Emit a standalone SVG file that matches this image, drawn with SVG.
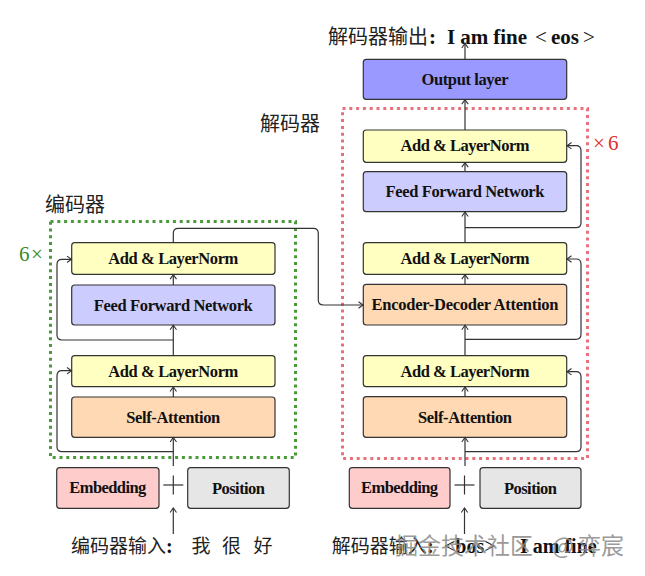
<svg xmlns="http://www.w3.org/2000/svg" width="645" height="576" viewBox="0 0 645 576">
<style>
.box{stroke:#333;stroke-width:1.2}
.ln{fill:#ffffc2}.ff{fill:#ccccff}.sa{fill:#ffd9b3}.out{fill:#9999ff}.emb{fill:#ffcccc}.pos{fill:#e6e6e6}
.lbl{font-family:"Liberation Serif",serif;font-weight:bold;font-size:16.5px;text-anchor:middle;fill:#111}
.cjk{font-family:"Noto Sans CJK SC","Noto Sans",sans-serif;font-size:19px;fill:#222}
.ser{font-family:"Liberation Serif",serif;fill:#111}
.b{font-weight:bold}
.conn path,.conn line{fill:none;stroke:#333;stroke-width:1.2}
.wm{font-family:"Noto Sans CJK SC","Noto Sans",sans-serif;font-size:23px;fill:#8a8a8a;opacity:0.85}
</style>
<defs>
<marker id="ah" markerWidth="10" markerHeight="10" refX="0" refY="0" viewBox="-6 -5 8 10" orient="auto" markerUnits="userSpaceOnUse">
<path d="M-4.5,-3.2 L0,0 L-4.5,3.2" fill="none" stroke="#333" stroke-width="1.1"/>
</marker>
</defs>

<!-- group frames -->
<g id="encoder-frame">
<rect x="50.5" y="221.5" width="245" height="236" fill="none" stroke="#4a9a3a" stroke-width="3" stroke-dasharray="3,3.8"/>
<text x="45" y="212" class="cjk" style="font-size:20px">编码器</text>
<text y="261" class="ser" style="font-size:21px;fill:#3a8a2a"><tspan x="19">6</tspan><tspan x="31">×</tspan></text>
</g>
<g id="decoder-frame">
<rect x="342.5" y="108.5" width="245" height="350" fill="none" stroke="#e8707a" stroke-width="3" stroke-dasharray="3,3.8"/>
<text x="260" y="131" class="cjk" style="font-size:20px">解码器</text>
<text y="149.5" class="ser" style="font-size:21px;fill:#e03030"><tspan x="593">×</tspan><tspan x="608">6</tspan></text>
</g>

<!-- encoder nodes -->
<g id="enc-addln2"><rect class="box ln" x="71.7" y="242.7" width="203.3" height="31.6" rx="3"/><text class="lbl" x="173.3" y="263.5" textLength="130">Add &amp; LayerNorm</text></g>
<g id="enc-ffn"><rect class="box ff" x="71.7" y="285" width="203.3" height="40" rx="3"/><text class="lbl" x="173.3" y="310.5" textLength="159">Feed Forward Network</text></g>
<g id="enc-addln1"><rect class="box ln" x="71.7" y="355.7" width="203.3" height="31" rx="3"/><text class="lbl" x="173.3" y="376.5" textLength="130">Add &amp; LayerNorm</text></g>
<g id="enc-sa"><rect class="box sa" x="71.7" y="397" width="203.3" height="40.3" rx="3"/><text class="lbl" x="173.3" y="423" textLength="94">Self-Attention</text></g>
<g id="enc-emb"><rect class="box emb" x="56.7" y="467.7" width="102.3" height="40.6" rx="3"/><text class="lbl" x="107.8" y="493" textLength="77">Embedding</text></g>
<g id="enc-pos"><rect class="box pos" x="187.7" y="467.7" width="101.6" height="40.6" rx="3"/><text class="lbl" x="238.5" y="494" textLength="53">Position</text></g>
<g id="enc-input"><text class="cjk" y="553"><tspan x="71">编码器输入</tspan><tspan class="ser b" x="166" style="font-size:20px">:</tspan><tspan x="191.5">我</tspan><tspan x="222">很</tspan><tspan x="253.5">好</tspan></text></g>

<!-- decoder nodes -->
<g id="dec-out"><rect class="box out" x="363.3" y="59.3" width="203.4" height="40" rx="3"/><text class="lbl" x="465" y="84.5" textLength="87">Output layer</text></g>
<g id="dec-addln3"><rect class="box ln" x="363.3" y="130" width="203.4" height="32.3" rx="3"/><text class="lbl" x="465" y="151.3" textLength="129">Add &amp; LayerNorm</text></g>
<g id="dec-ffn"><rect class="box ff" x="363.3" y="171.7" width="203.4" height="40" rx="3"/><text class="lbl" x="465" y="197.3" textLength="159">Feed Forward Network</text></g>
<g id="dec-addln2"><rect class="box ln" x="363.3" y="242.7" width="203.4" height="31.6" rx="3"/><text class="lbl" x="465" y="263.5" textLength="129">Add &amp; LayerNorm</text></g>
<g id="dec-eda"><rect class="box sa" x="363.3" y="284.3" width="203.4" height="40.7" rx="3"/><text class="lbl" x="465" y="310" textLength="187">Encoder-Decoder Attention</text></g>
<g id="dec-addln1"><rect class="box ln" x="363.3" y="355.7" width="203.4" height="31" rx="3"/><text class="lbl" x="465" y="376.5" textLength="129">Add &amp; LayerNorm</text></g>
<g id="dec-sa"><rect class="box sa" x="363.3" y="396.7" width="203.4" height="40.6" rx="3"/><text class="lbl" x="465" y="422.7" textLength="94">Self-Attention</text></g>
<g id="dec-emb"><rect class="box emb" x="349.3" y="467.7" width="100.7" height="40.6" rx="3"/><text class="lbl" x="399.6" y="493" textLength="77">Embedding</text></g>
<g id="dec-pos"><rect class="box pos" x="480" y="467.7" width="101" height="40.6" rx="3"/><text class="lbl" x="530.5" y="494" textLength="53">Position</text></g>
<g id="dec-output-text"><text class="cjk" y="43.5" style="font-size:20px"><tspan x="328">解码器输出</tspan><tspan class="ser b" x="429" style="font-size:21px">:</tspan><tspan class="ser b" x="447" style="font-size:21px" textLength="80">I am fine</tspan><tspan class="ser" x="535" style="font-size:21px">&lt;</tspan><tspan class="ser b" x="551" style="font-size:21px">eos</tspan><tspan class="ser" x="583" style="font-size:21px">&gt;</tspan></text></g>
<g id="dec-input"><text class="cjk" y="553"><tspan x="331.7">解码器输入</tspan><tspan class="ser b" x="427" style="font-size:20px">: </tspan><tspan class="ser" x="444" style="font-size:20px">&lt;</tspan><tspan class="ser b" style="font-size:20px">bos</tspan><tspan class="ser" style="font-size:20px">&gt;</tspan><tspan class="ser b" x="520" style="font-size:20px">I am fine</tspan></text></g>

<!-- connectors -->
<g id="connectors" class="conn">
<!-- encoder -->
<line x1="173.3" y1="534" x2="173.3" y2="508" marker-end="url(#ah)"/>
<line x1="163.3" y1="485" x2="183.3" y2="485"/>
<line x1="173.3" y1="475.5" x2="173.3" y2="494.5"/>
<line x1="173.3" y1="466" x2="173.3" y2="437.5" marker-end="url(#ah)"/>
<path d="M173.3,451.7 H62 Q57,451.7 57,446.7 V375.7 Q57,370.7 62,370.7 H71.5" marker-end="url(#ah)"/>
<line x1="173.3" y1="397" x2="173.3" y2="387" marker-end="url(#ah)"/>
<line x1="173.3" y1="355.7" x2="173.3" y2="325.3" marker-end="url(#ah)"/>
<path d="M173.3,340 H62 Q57,340 57,335 V264.3 Q57,259.3 62,259.3 H71.5" marker-end="url(#ah)"/>
<line x1="173.3" y1="285" x2="173.3" y2="274.6" marker-end="url(#ah)"/>
<path d="M173.3,242.7 V233.3 Q173.3,228.3 178.3,228.3 H313.3 Q318.3,228.3 318.3,233.3 V300 Q318.3,305 323.3,305 H363" marker-end="url(#ah)"/>
<!-- decoder -->
<line x1="464.5" y1="534" x2="464.5" y2="508" marker-end="url(#ah)"/>
<line x1="454.5" y1="485" x2="474.5" y2="485"/>
<line x1="464.5" y1="475.5" x2="464.5" y2="494.5"/>
<line x1="465" y1="466" x2="465" y2="437.5" marker-end="url(#ah)"/>
<path d="M465,451.7 H576 Q581,451.7 581,446.7 V376.7 Q581,371.7 576,371.7 H567" marker-end="url(#ah)"/>
<line x1="465" y1="396.7" x2="465" y2="387" marker-end="url(#ah)"/>
<line x1="465" y1="355.7" x2="465" y2="325.3" marker-end="url(#ah)"/>
<path d="M465,339.3 H576 Q581,339.3 581,334.3 V264 Q581,259 576,259 H567" marker-end="url(#ah)"/>
<line x1="465" y1="284.3" x2="465" y2="274.6" marker-end="url(#ah)"/>
<line x1="465" y1="242.7" x2="465" y2="212" marker-end="url(#ah)"/>
<path d="M465,227.7 H576 Q581,227.7 581,222.7 V150.7 Q581,145.7 576,145.7 H567" marker-end="url(#ah)"/>
<line x1="465" y1="171.7" x2="465" y2="162.6" marker-end="url(#ah)"/>
<line x1="465" y1="130" x2="465" y2="99.6" marker-end="url(#ah)"/>
<line x1="465" y1="59.3" x2="465" y2="43.5" marker-end="url(#ah)"/>
</g>

<text class="wm" y="554"><tspan x="395">掘金技术社区</tspan><tspan x="552">@</tspan><tspan x="578">弈宸</tspan></text>
</svg>
